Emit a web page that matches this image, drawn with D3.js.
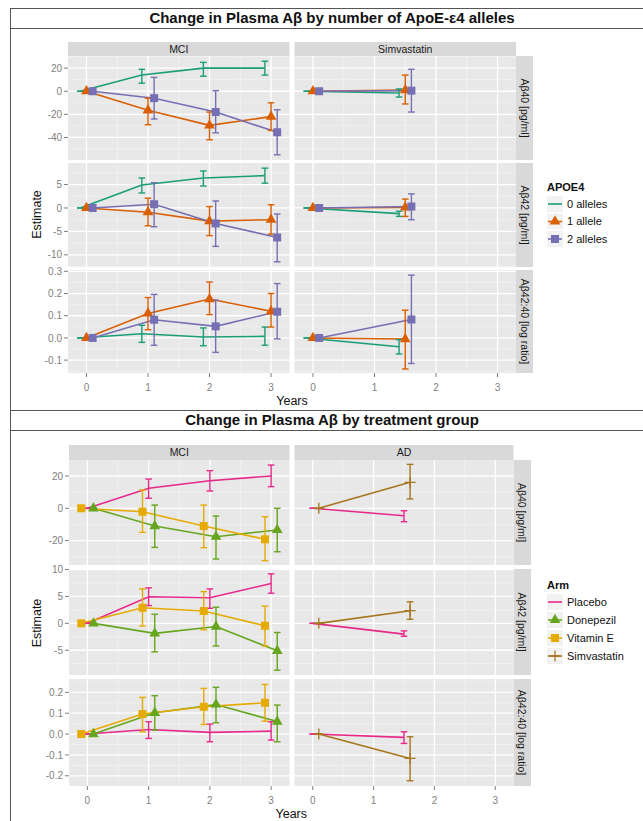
<!DOCTYPE html>
<html><head><meta charset="utf-8">
<script src="https://cdn.jsdelivr.net/npm/d3@7"></script>
<style>
body{margin:0;background:#fff}
svg{display:block}
text{font-family:"Liberation Sans",Arial,Helvetica,sans-serif}
</style>
</head><body>
<svg id="c" width="643" height="821"></svg>
<script>
// ---------------- DATA ----------------
const mciYears = [0, 1, 2, 3];
const simYears = [0, 1.5];
const xTicks = [0, 1, 2, 3];
const xTickLabels = ["0", "1", "2", "3"];
const measures = ["Aβ40 [pg/ml]", "Aβ42 [pg/ml]", "Aβ42:40 [log ratio]"];

// Top chart: APOE4 alleles
const apoeTitle = "Change in Plasma Aβ by number of ApoE-ε4 alleles";
const apoePanels = ["MCI", "Simvastatin"];
const apoeGroups = ["0 alleles", "1 allele", "2 alleles"];
const apoeColors = ["#1b9e77", "#d95f02", "#7570b3"];
const apoeShapes = ["none", "triangle", "square"];
const apoeDodge = [-0.1, 0, 0.1];
const apoeYTicks = [[-40, -20, 0, 20], [-10, -5, 0, 5], [-0.1, 0, 0.1, 0.2, 0.3]];
const apoeYTickLabels = [["-40", "-20", "0", "20"], ["-10", "-5", "0", "5"], ["-0.1", "0.0", "0.1", "0.2", "0.3"]];

// MCI panel, per allele group: estimate, lower, upper
const apoeMci40_0 = {est: [0, 14, 20, 20], lo: [0, 7, 13, 14], hi: [0, 19, 25, 26]};
const apoeMci40_1 = {est: [0, -16.5, -29.5, -22], lo: [0, -29, -42, -34], hi: [0, -6, -18, -10]};
const apoeMci40_2 = {est: [0, -6, -18, -35.5], lo: [0, -24, -36, -55], hi: [0, 12, 0.5, -16]};
const apoeMci42_0 = {est: [0, 4.9, 6.4, 6.9], lo: [0, 3.2, 4.7, 5.3], hi: [0, 6.4, 7.9, 8.5]};
const apoeMci42_1 = {est: [0, -0.9, -2.8, -2.5], lo: [0, -3.8, -5.9, -5.6], hi: [0, 2.1, 0.3, 0.7]};
const apoeMci42_2 = {est: [0, 0.8, -3.3, -6.3], lo: [0, -4, -8.2, -11.5], hi: [0, 5.4, 1.5, -1.3]};
const apoeMciR_0 = {est: [0, 0.019, 0.004, 0.007], lo: [0, -0.02, -0.035, -0.033], hi: [0, 0.057, 0.045, 0.049]};
const apoeMciR_1 = {est: [0, 0.11, 0.175, 0.12], lo: [0, 0.037, 0.105, 0.049], hi: [0, 0.182, 0.252, 0.2]};
const apoeMciR_2 = {est: [0, 0.082, 0.052, 0.118], lo: [0, -0.033, -0.065, -0.004], hi: [0, 0.196, 0.17, 0.245]};
// Simvastatin panel
const apoeSim40_0 = {est: [0, -1.5], lo: [0, -5], hi: [0, 2]};
const apoeSim40_1 = {est: [0, 1], lo: [0, -11], hi: [0, 14]};
const apoeSim40_2 = {est: [0, 0.5], lo: [0, -18], hi: [0, 19]};
const apoeSim42_0 = {est: [0, -1.2], lo: [0, -1.8], hi: [0, -0.7]};
const apoeSim42_1 = {est: [0, 0.1], lo: [0, -1.8], hi: [0, 1.9]};
const apoeSim42_2 = {est: [0, 0.3], lo: [0, -2.5], hi: [0, 3.0]};
const apoeSimR_0 = {est: [0, -0.04], lo: [0, -0.072], hi: [0, -0.008]};
const apoeSimR_1 = {est: [0, -0.005], lo: [0, -0.14], hi: [0, 0.125]};
const apoeSimR_2 = {est: [0, 0.083], lo: [0, -0.115], hi: [0, 0.283]};

// Bottom chart: treatment arm
const armTitle = "Change in Plasma Aβ by treatment group";
const armPanels = ["MCI", "AD"];
const armGroups = ["Placebo", "Donepezil", "Vitamin E", "Simvastatin"];
const armColors = ["#e7298a", "#66a61e", "#e6ab02", "#a6761d"];
const armShapes = ["none", "triangle", "square", "plus"];
const armDodge = [0, 0.1, -0.1, 0.1];
const armYTicks = [[-20, 0, 20], [-5, 0, 5, 10], [-0.2, -0.1, 0, 0.1, 0.2]];
const armYTickLabels = [["-20", "0", "20"], ["-5", "0", "5", "10"], ["-0.2", "-0.1", "0.0", "0.1", "0.2"]];

const armMci40_pla = {est: [0, 12.4, 17.1, 20], lo: [0, 6.2, 10.7, 13.4], hi: [0, 18.1, 23.3, 26.8]};
const armMci40_don = {est: [0, -11, -17.6, -13.4], lo: [0, -24.2, -31.4, -26.9], hi: [0, 2, -4.8, 0]};
const armMci40_vit = {est: [0, -2.1, -11, -19.2], lo: [0, -14.9, -24.4, -32.4], hi: [0, 11.3, 2, -5.2]};
const armMci42_pla = {est: [0, 4.95, 4.75, 7.4], lo: [0, 3.3, 2.8, 5.6], hi: [0, 6.6, 6.4, 9.2]};
const armMci42_don = {est: [0, -1.86, -0.6, -5.1], lo: [0, -5.3, -4.2, -8.7], hi: [0, 1.7, 3.0, -1.7]};
const armMci42_vit = {est: [0, 2.9, 2.3, -0.45], lo: [0, -0.5, -1.2, -4.2], hi: [0, 6.4, 5.9, 3.2]};
const armMciR_pla = {est: [0, 0.022, 0.008, 0.014], lo: [0, -0.021, -0.037, -0.029], hi: [0, 0.059, 0.048, 0.059]};
const armMciR_don = {est: [0, 0.102, 0.142, 0.06], lo: [0, 0.019, 0.054, -0.037], hi: [0, 0.184, 0.224, 0.139]};
const armMciR_vit = {est: [0, 0.096, 0.131, 0.15], lo: [0, 0.011, 0.046, 0.062], hi: [0, 0.176, 0.219, 0.238]};
const armAd40_pla = {est: [0, -4.6], lo: [0, -8.3], hi: [0, -1.5]};
const armAd40_sim = {est: [0, 16.1], lo: [0, 5.8], hi: [0, 27.2]};
const armAd42_pla = {est: [0, -2.0], lo: [0, -2.4], hi: [0, -1.4]};
const armAd42_sim = {est: [0, 2.35], lo: [0, 0.75], hi: [0, 4.0]};
const armAdR_pla = {est: [0, -0.016], lo: [0, -0.045], hi: [0, 0.011]};
const armAdR_sim = {est: [0, -0.117], lo: [0, -0.224], hi: [0, -0.013]};

// series tables built from the arrays above: [panel, row, group, years, values]
const apoeSeries = [
  [0, 0, 0, mciYears, apoeMci40_0], [0, 0, 1, mciYears, apoeMci40_1], [0, 0, 2, mciYears, apoeMci40_2],
  [0, 1, 0, mciYears, apoeMci42_0], [0, 1, 1, mciYears, apoeMci42_1], [0, 1, 2, mciYears, apoeMci42_2],
  [0, 2, 0, mciYears, apoeMciR_0], [0, 2, 1, mciYears, apoeMciR_1], [0, 2, 2, mciYears, apoeMciR_2],
  [1, 0, 0, simYears, apoeSim40_0], [1, 0, 1, simYears, apoeSim40_1], [1, 0, 2, simYears, apoeSim40_2],
  [1, 1, 0, simYears, apoeSim42_0], [1, 1, 1, simYears, apoeSim42_1], [1, 1, 2, simYears, apoeSim42_2],
  [1, 2, 0, simYears, apoeSimR_0], [1, 2, 1, simYears, apoeSimR_1], [1, 2, 2, simYears, apoeSimR_2]
];
const armSeries = [
  [0, 0, 0, mciYears, armMci40_pla], [0, 0, 1, mciYears, armMci40_don], [0, 0, 2, mciYears, armMci40_vit],
  [0, 1, 0, mciYears, armMci42_pla], [0, 1, 1, mciYears, armMci42_don], [0, 1, 2, mciYears, armMci42_vit],
  [0, 2, 0, mciYears, armMciR_pla], [0, 2, 1, mciYears, armMciR_don], [0, 2, 2, mciYears, armMciR_vit],
  [1, 0, 0, simYears, armAd40_pla], [1, 0, 3, simYears, armAd40_sim],
  [1, 1, 0, simYears, armAd42_pla], [1, 1, 3, simYears, armAd42_sim],
  [1, 2, 0, simYears, armAdR_pla], [1, 2, 3, simYears, armAdR_sim]
];

// ---------------- LAYOUT ----------------
const svg = d3.select("#c");
const xDomain = [-0.3, 3.3];

const apoeLayout = {
  titleY: 18, stripTop: 42, stripBottom: 56,
  rows: [[56, 160], [163, 267], [270, 373]],
  yDomains: [[-59.5, 30.5], [-12.6, 9.6], [-0.158, 0.306]],
  cols: [[68, 289.5], [294.5, 516]], rStrip: [516, 533],
  xTickY: 387, yearsY: 400, legendX: 547, legendTitleY: 191, legendRow0: 204, legendStep: 17.5
};
const armLayout = {
  titleY: 420, stripTop: 445, stripBottom: 460,
  rows: [[460, 565], [569, 675], [679, 786]],
  yDomains: [[-35.1, 29.9], [-9.6, 10.1], [-0.249, 0.264]],
  cols: [[69, 289.5], [294.5, 513.5]], rStrip: [513.5, 531],
  xTickY: 800, yearsY: 813, legendX: 547, legendTitleY: 589, legendRow0: 602, legendStep: 18
};

// frame
const frame = svg.append("g").attr("stroke", "#555").attr("stroke-width", 1);
frame.append("line").attr("x1", 10.5).attr("x2", 10.5).attr("y1", 8).attr("y2", 821);
[8.5, 28.5, 410.5, 430.5].forEach(y => frame.append("line").attr("x1", 10).attr("x2", 643).attr("y1", y).attr("y2", y));

function shapePath(s) {
  if (s === "triangle") return d3.symbol(d3.symbolTriangle, 50)();
  if (s === "square") return d3.symbol(d3.symbolSquare, 64)();
  if (s === "plus") return "M-5.5,0H5.5M0,-5.5V5.5";
  return null;
}
function drawMarker(g, s, color, x, y) {
  const p = shapePath(s);
  if (!p) return;
  const m = g.append("path").attr("d", p).attr("transform", `translate(${x},${y})`);
  if (s === "plus") m.attr("fill", "none").attr("stroke", color).attr("stroke-width", 1.3);
  else m.attr("fill", color);
}

function drawChart(L, title, panels, groups, colors, shapes, dodge, yTicks, yTickLabels, series, legendTitle) {
  const g = svg.append("g");
  g.append("text").attr("x", 332).attr("y", L.titleY).attr("dy", "0.36em")
    .attr("text-anchor", "middle").attr("font-weight", "bold").attr("font-size", 15).attr("fill", "#111").text(title);

  const xs = L.cols.map(c => d3.scaleLinear().domain(xDomain).range(c));
  const ys = L.rows.map((r, i) => d3.scaleLinear().domain(L.yDomains[i]).range([r[1], r[0]]));

  // top strips
  panels.forEach((p, pi) => {
    const [a, b] = L.cols[pi];
    g.append("rect").attr("x", a).attr("y", L.stripTop).attr("width", b - a).attr("height", L.stripBottom - L.stripTop).attr("fill", "#d9d9d9");
    g.append("text").attr("x", (a + b) / 2).attr("y", (L.stripTop + L.stripBottom) / 2).attr("dy", "0.36em")
      .attr("text-anchor", "middle").attr("font-size", 10.5).attr("fill", "#1a1a1a").text(p);
  });

  // panels
  L.rows.forEach((r, ri) => {
    const y = ys[ri];
    // right strip
    g.append("rect").attr("x", L.rStrip[0]).attr("y", r[0]).attr("width", L.rStrip[1] - L.rStrip[0]).attr("height", r[1] - r[0]).attr("fill", "#d9d9d9");
    const cx = (L.rStrip[0] + L.rStrip[1]) / 2, cy = (r[0] + r[1]) / 2;
    g.append("text").attr("transform", `translate(${cx},${cy}) rotate(90)`).attr("dy", "0.36em")
      .attr("text-anchor", "middle").attr("font-size", 10.5).attr("fill", "#1a1a1a").text(measures[ri]);

    const maj = yTicks[ri];
    const step = maj[1] - maj[0];
    const minor = [maj[0] - step / 2].concat(maj.map(v => v + step / 2)).filter(v => v > L.yDomains[ri][0] && v < L.yDomains[ri][1]);
    const xMinor = [-0.5, 0.5, 1.5, 2.5, 3.5].filter(v => v > xDomain[0] && v < xDomain[1]);

    panels.forEach((p, pi) => {
      const x = xs[pi];
      const [a, b] = L.cols[pi];
      const pg = g.append("g");
      pg.append("rect").attr("x", a).attr("y", r[0]).attr("width", b - a).attr("height", r[1] - r[0]).attr("fill", "#e8e8e8");
      minor.forEach(v => pg.append("line").attr("x1", a).attr("x2", b).attr("y1", y(v)).attr("y2", y(v)).attr("stroke", "#f3f3f3").attr("stroke-width", 0.7));
      xMinor.forEach(v => pg.append("line").attr("x1", x(v)).attr("x2", x(v)).attr("y1", r[0]).attr("y2", r[1]).attr("stroke", "#f3f3f3").attr("stroke-width", 0.7));
      maj.forEach(v => pg.append("line").attr("x1", a).attr("x2", b).attr("y1", y(v)).attr("y2", y(v)).attr("stroke", "#fff").attr("stroke-width", 1.3));
      xTicks.forEach(v => pg.append("line").attr("x1", x(v)).attr("x2", x(v)).attr("y1", r[0]).attr("y2", r[1]).attr("stroke", "#fff").attr("stroke-width", 1.3));

      const ser = series.filter(s => s[0] === pi && s[1] === ri);
      // lines
      ser.forEach(s => {
        const gi = s[2], yrs = s[3], v = s[4];
        const pts = yrs.map((t, k) => [x(t + dodge[gi]), y(v.est[k])]);
        pg.append("path").attr("d", d3.line()(pts)).attr("fill", "none").attr("stroke", colors[gi]).attr("stroke-width", 1.6);
      });
      // error bars
      ser.forEach(s => {
        const gi = s[2], yrs = s[3], v = s[4];
        yrs.forEach((t, k) => {
          const xx = x(t + dodge[gi]);
          const eb = pg.append("g").attr("stroke", colors[gi]).attr("stroke-width", 1.4);
          eb.append("line").attr("x1", xx).attr("x2", xx).attr("y1", y(v.lo[k])).attr("y2", y(v.hi[k]));
          eb.append("line").attr("x1", xx - 3.3).attr("x2", xx + 3.3).attr("y1", y(v.lo[k])).attr("y2", y(v.lo[k]));
          eb.append("line").attr("x1", xx - 3.3).attr("x2", xx + 3.3).attr("y1", y(v.hi[k])).attr("y2", y(v.hi[k]));
        });
      });
      // points
      ser.forEach(s => {
        const gi = s[2], yrs = s[3], v = s[4];
        yrs.forEach((t, k) => drawMarker(pg, shapes[gi], colors[gi], x(t + dodge[gi]), y(v.est[k])));
      });
    });

    // y axis
    const x0 = L.cols[0][0];
    maj.forEach((v, k) => {
      g.append("line").attr("x1", x0 - 4).attr("x2", x0).attr("y1", y(v)).attr("y2", y(v)).attr("stroke", "#7f7f7f").attr("stroke-width", 1);
      g.append("text").attr("x", x0 - 6).attr("y", y(v)).attr("dy", "0.36em").attr("text-anchor", "end")
        .attr("font-size", 10).attr("fill", "#7f7f7f").text(yTickLabels[ri][k]);
    });
  });

  // x axis
  const yb = L.rows[2][1];
  panels.forEach((p, pi) => {
    xTicks.forEach((v, k) => {
      const xx = xs[pi](v);
      g.append("line").attr("x1", xx).attr("x2", xx).attr("y1", yb).attr("y2", yb + 4).attr("stroke", "#7f7f7f");
      g.append("text").attr("x", xx).attr("y", L.xTickY).attr("dy", "0.36em").attr("text-anchor", "middle")
        .attr("font-size", 10).attr("fill", "#7f7f7f").text(xTickLabels[k]);
    });
  });
  g.append("text").attr("x", (L.cols[0][0] + L.cols[1][1]) / 2).attr("y", L.yearsY).attr("dy", "0.36em")
    .attr("text-anchor", "middle").attr("font-size", 12.5).attr("fill", "#111").text("Years");
  g.append("text").attr("transform", `translate(36,${(L.rows[0][0] + L.rows[2][1]) / 2}) rotate(-90)`).attr("dy", "0.36em")
    .attr("text-anchor", "middle").attr("font-size", 12.5).attr("fill", "#111").text("Estimate");

  // legend
  const lg = g.append("g");
  lg.append("text").attr("x", L.legendX).attr("y", L.legendTitleY).attr("font-weight", "bold").attr("font-size", 11).attr("fill", "#111").text(legendTitle);
  groups.forEach((name, gi) => {
    const cy = L.legendRow0 + gi * L.legendStep;
    lg.append("rect").attr("x", L.legendX).attr("y", cy - 8).attr("width", 16).attr("height", 16).attr("fill", "#f2f2f2");
    lg.append("line").attr("x1", L.legendX + 1).attr("x2", L.legendX + 15).attr("y1", cy).attr("y2", cy).attr("stroke", colors[gi]).attr("stroke-width", 1.6);
    drawMarker(lg, shapes[gi], colors[gi], L.legendX + 8, cy);
    lg.append("text").attr("x", L.legendX + 20).attr("y", cy).attr("dy", "0.36em").attr("font-size", 11).attr("fill", "#111").text(name);
  });
}

drawChart(apoeLayout, apoeTitle, apoePanels, apoeGroups, apoeColors, apoeShapes, apoeDodge, apoeYTicks, apoeYTickLabels, apoeSeries, "APOE4");
drawChart(armLayout, armTitle, armPanels, armGroups, armColors, armShapes, armDodge, armYTicks, armYTickLabels, armSeries, "Arm");
</script>
</body></html>
